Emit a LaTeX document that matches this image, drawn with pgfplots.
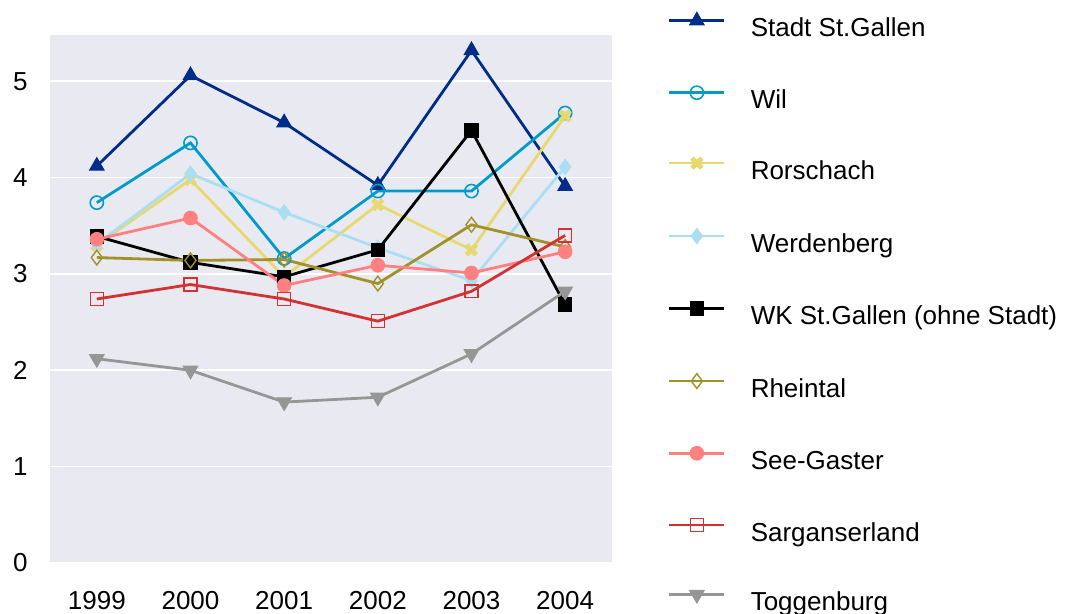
\documentclass[border=0pt]{standalone}
\usepackage{fontspec}
\setmainfont{Liberation Sans}
\usepackage{pgfplots}
\pgfplotsset{compat=1.18}
\definecolor{bgc}{RGB}{233,234,241}
\definecolor{cstadt}{RGB}{0,45,135}
\definecolor{cwil}{RGB}{0,155,200}
\definecolor{crors}{RGB}{232,216,112}
\definecolor{cwerd}{RGB}{170,222,242}
\definecolor{cwk}{RGB}{0,0,0}
\definecolor{crhein}{RGB}{160,145,40}
\definecolor{csee}{RGB}{255,128,128}
\definecolor{csarg}{RGB}{210,50,50}
\definecolor{ctogg}{RGB}{150,150,150}
\begin{document}
\fontsize{13pt}{15pt}\selectfont
\begin{tikzpicture}
\useasboundingbox (-25pt,-25.5pt) rectangle (507.5pt,281.5pt);
\begin{axis}[
  at={(0pt,0pt)}, anchor=south west,
  scale only axis, width=281pt, height=264pt,
  xmin=1998.5, xmax=2004.5, ymin=0, ymax=5.48,
  xtick={1999,2000,2001,2002,2003,2004},
  ytick={0,1,2,3,4,5},
  axis background/.style={fill=bgc},
  axis line style={draw=none},
  major tick length=0pt,
  ymajorgrids, grid style={white, line width=0.8pt},
  /pgf/number format/assume math mode=true,
  /pgf/number format/1000 sep={},
  tick label style={font=\fontsize{13pt}{15pt}\selectfont},
  xticklabel style={yshift=-9.5pt},
  yticklabel style={xshift=-6.7pt},
  legend cell align=left,
  legend style={at={(1.0996,1.043)}, anchor=north west, draw=none, fill=none,
    inner sep=0pt, outer sep=0pt, row sep=22.1pt, column sep=12.5pt,
    font=\fontsize{13pt}{15pt}\selectfont,
    nodes={inner sep=0pt, text height=9.5pt, text depth=2.5pt}},
  legend image code/.code={\draw[mark repeat=2,mark phase=2] plot coordinates {(0pt,4.6pt) (13.75pt,4.6pt) (27.5pt,4.6pt)};},
]
\addplot[cstadt, line width=1.4pt, mark=triangle*, mark size=4.2pt, mark options={line width=0.5pt}] coordinates {(1999,4.12) (2000,5.06) (2001,4.57) (2002,3.92) (2003,5.32) (2004,3.91)};
\addlegendentry{Stadt St.Gallen}
\addplot[cwil, line width=1.4pt, mark=o, mark size=3.3pt, mark options={line width=0.8pt}] coordinates {(1999,3.74) (2000,4.36) (2001,3.16) (2002,3.86) (2003,3.86) (2004,4.67)};
\addlegendentry{Wil}
\addplot[crors, line width=1.4pt, mark=x, mark size=3.5pt, mark options={line width=2.4pt}] coordinates {(1999,3.30) (2000,3.98) (2001,2.97) (2002,3.72) (2003,3.25) (2004,4.64)};
\addlegendentry{Rorschach}
\addplot[cwerd, line width=1.4pt, mark=diamond*, mark size=3.8pt, mark options={line width=0.5pt}] coordinates {(1999,3.31) (2000,4.04) (2001,3.64) (2002,3.27) (2003,2.93) (2004,4.11)};
\addlegendentry{Werdenberg}
\addplot[cwk, line width=1.4pt, mark=square*, mark size=3.4pt, mark options={line width=0.5pt}] coordinates {(1999,3.39) (2000,3.12) (2001,2.97) (2002,3.25) (2003,4.49) (2004,2.68)};
\addlegendentry{WK St.Gallen (ohne Stadt)}
\addplot[crhein, line width=1.4pt, mark=diamond, mark size=3.7pt, mark options={line width=0.7pt}] coordinates {(1999,3.17) (2000,3.14) (2001,3.15) (2002,2.90) (2003,3.51) (2004,3.28)};
\addlegendentry{Rheintal}
\addplot[csee, line width=1.4pt, mark=*, mark size=3.4pt, mark options={line width=0.5pt}] coordinates {(1999,3.36) (2000,3.58) (2001,2.88) (2002,3.09) (2003,3.01) (2004,3.23)};
\addlegendentry{See-Gaster}
\addplot[csarg, line width=1.4pt, mark=square, mark size=3.2pt, mark options={line width=0.7pt}] coordinates {(1999,2.74) (2000,2.89) (2001,2.74) (2002,2.51) (2003,2.82) (2004,3.40)};
\addlegendentry{Sarganserland}
\addplot[ctogg, line width=1.4pt, mark=triangle*, mark size=4.2pt, mark options={rotate=180, line width=0.5pt}] coordinates {(1999,2.12) (2000,2.00) (2001,1.67) (2002,1.72) (2003,2.17) (2004,2.82)};
\addlegendentry{Toggenburg}
\end{axis}
\end{tikzpicture}
\end{document}
